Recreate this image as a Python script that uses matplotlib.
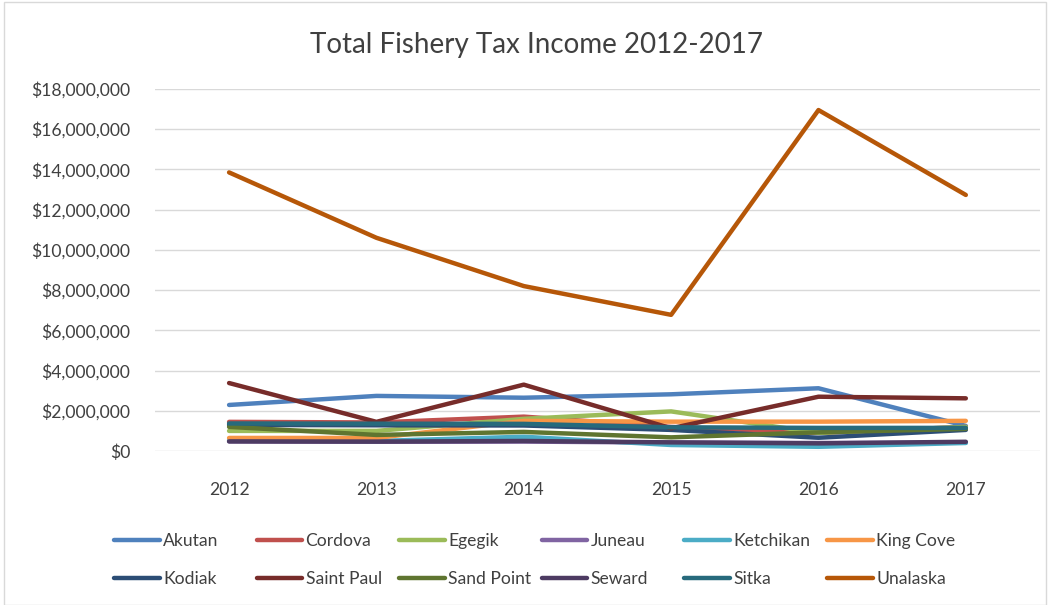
import matplotlib.pyplot as plt
from matplotlib.ticker import FuncFormatter
from matplotlib.patches import Rectangle

plt.rcParams['font.family'] = ['Lato', 'DejaVu Sans']

years = ['2012', '2013', '2014', '2015', '2016', '2017']

# tax income in dollars per community
akutan = [2290000, 2740000, 2650000, 2820000, 3120000, 1250000]
cordova = [1450000, 1420000, 1710000, 1200000, 900000, 1200000]
egegik = [1000000, 1000000, 1600000, 1970000, 900000, 1200000]
juneau = [480000, 460000, 470000, 420000, 400000, 420000]
ketchikan = [520000, 500000, 710000, 300000, 210000, 400000]
king_cove = [650000, 650000, 1500000, 1460000, 1460000, 1500000]
kodiak = [1300000, 1280000, 1270000, 1050000, 660000, 1050000]
saint_paul = [3380000, 1450000, 3300000, 1130000, 2700000, 2620000]
sand_point = [1200000, 800000, 950000, 680000, 930000, 1100000]
seward = [480000, 470000, 500000, 430000, 380000, 460000]
sitka = [1370000, 1360000, 1350000, 1180000, 1150000, 1150000]
unalaska = [13850000, 10600000, 8200000, 6770000, 16950000, 12730000]

names = ['Akutan', 'Cordova', 'Egegik', 'Juneau', 'Ketchikan', 'King Cove',
         'Kodiak', 'Saint Paul', 'Sand Point', 'Seward', 'Sitka', 'Unalaska']
series = [akutan, cordova, egegik, juneau, ketchikan, king_cove,
          kodiak, saint_paul, sand_point, seward, sitka, unalaska]
colors = ['#4f81bd', '#c0504d', '#9bbb59', '#8064a2', '#4bacc6', '#f79646',
          '#2c4d75', '#772c2a', '#5f7530', '#4d3b62', '#276a7c', '#b65708']

fig = plt.figure(figsize=(10.5, 6.05), dpi=100)
ax = fig.add_axes([0.148, 0.2545, 0.842, 0.5985])

x = range(len(years))
lines = []
for name, vals, c in zip(names, series, colors):
    ln, = ax.plot(x, vals, color=c, lw=3.2, label=name, solid_capstyle='round',
                  solid_joinstyle='round')
    lines.append(ln)

ax.set_xlim(-0.5, 5.5)
ax.set_ylim(0, 18000000)
ax.set_yticks(range(0, 18000001, 2000000))
ax.yaxis.set_major_formatter(FuncFormatter(lambda v, p: '${:,.0f}'.format(v)))
ax.set_xticks(list(x))
ax.set_xticklabels(years)
ax.tick_params(axis='both', length=0, labelsize=12.6, colors='#404040')
ax.tick_params(axis='x', pad=22)
ax.tick_params(axis='y', pad=18)
ax.grid(axis='y', color='#d9d9d9', lw=1)
ax.set_axisbelow(True)
for s in ax.spines.values():
    s.set_visible(False)

fig.text(0.511, 0.925, 'Total Fishery Tax Income 2012-2017', ha='center', va='center',
         fontsize=20, color='#404040')

# legend: six equal-width columns, two rows each
for i in range(6):
    fig.legend([lines[i], lines[i + 6]], [names[i], names[i + 6]],
               loc='center left', bbox_to_anchor=((114 + 142.6 * i) / 1050, 0.074),
               frameon=False, fontsize=12.6, handlelength=2.6, handletextpad=0.2,
               borderpad=0, borderaxespad=0, labelspacing=1.25, labelcolor='#404040')

fig.add_artist(Rectangle((0.004, 0.0), 0.992, 0.997, transform=fig.transFigure,
                         fill=False, edgecolor='#d9d9d9', lw=1))

fig.savefig('out.png', dpi=100)
